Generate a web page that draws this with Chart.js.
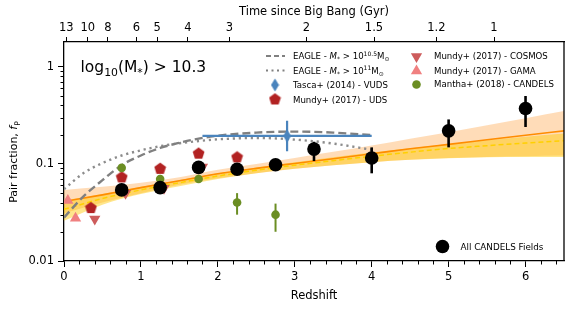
<!DOCTYPE html>
<html>
<head>
<meta charset="utf-8">
<script src="https://cdn.jsdelivr.net/npm/chart.js@4.4.0/dist/chart.umd.min.js"></script>
<style>
  html, body { margin: 0; padding: 0; background: #fff; }
</style>
</head>
<body>
<canvas id="pairChart" width="582" height="311"></canvas>
<script>
// ---- data ----
const zTicks = [0, 1, 2, 3, 4, 5, 6];
const ageLabels = ['13', '10', '8', '6', '5', '4', '3', '2', '1.5', '1.2', '1'];
const ageTickZ = [0.03, 0.31, 0.57, 0.94, 1.21, 1.61, 2.15, 3.15, 4.03, 4.84, 5.59];
const fpTicks = [0.01, 0.1, 1];

// All CANDELS fields (black)
const candelsZ = [0.75, 1.25, 1.75, 2.25, 2.75, 3.25, 4.0, 5.0, 6.0];
const candelsFp = [0.054, 0.057, 0.092, 0.088, 0.098, 0.142, 0.115, 0.219, 0.372];
const candelsLo = [0.050, 0.053, 0.085, 0.082, 0.089, 0.107, 0.080, 0.148, 0.240];
const candelsHi = [0.058, 0.062, 0.100, 0.095, 0.108, 0.169, 0.148, 0.287, 0.500];

// Tasca+ (2014) - VUDS
const vudsZ = [2.9];
const vudsFp = [0.194];
const vudsLo = [0.135];
const vudsHi = [0.278];
const vudsZLo = [1.8];
const vudsZHi = [4.0];

// Mantha+ (2018) - CANDELS
const manthaZ = [0.75, 1.25, 1.75, 2.25, 2.75];
const manthaFp = [0.091, 0.070, 0.070, 0.040, 0.030];
const manthaLo = [0.084, 0.064, 0.064, 0.030, 0.020];
const manthaHi = [0.098, 0.077, 0.077, 0.050, 0.039];

// Mundy+ (2017)
const udsZ = [0.35, 0.75, 1.25, 1.75, 2.25];
const udsFp = [0.0355, 0.0735, 0.090, 0.129, 0.118];
const cosmosZ = [0.40, 0.80, 1.30, 1.80];
const cosmosFp = [0.027, 0.050, 0.056, 0.093];
const gamaZ = [0.05, 0.15];
const gamaFp = [0.042, 0.0275];

// EAGLE predictions
const eagleZ = [0, 0.25, 0.5, 0.75, 1, 1.25, 1.5, 1.75, 2, 2.5, 3, 3.5, 4];
const eagle105 = [0.028, 0.046, 0.068, 0.097, 0.122, 0.146, 0.165, 0.182, 0.195, 0.210, 0.215, 0.210, 0.198];
const eagle11 = [0.055, 0.080, 0.102, 0.122, 0.138, 0.152, 0.163, 0.172, 0.179, 0.185, 0.178, 0.162, 0.140];

// fits with their uncertainty bands
const fitZ = [0, 0.5, 1, 1.5, 2, 2.5, 3, 3.5, 4, 4.5, 5, 5.5, 6, 6.5];
const fitAll = [0.041, 0.048, 0.057, 0.067, 0.079, 0.090, 0.101, 0.113, 0.127, 0.143, 0.159, 0.177, 0.197, 0.219];
const fitAllHi = [0.054, 0.058, 0.064, 0.073, 0.087, 0.100, 0.115, 0.133, 0.155, 0.182, 0.212, 0.250, 0.295, 0.350];
const fitAllLo = [0.031, 0.040, 0.050, 0.061, 0.071, 0.080, 0.089, 0.097, 0.104, 0.110, 0.115, 0.118, 0.120, 0.122];
const fitAlt = [0.034, 0.044, 0.054, 0.064, 0.075, 0.086, 0.097, 0.108, 0.120, 0.132, 0.144, 0.154, 0.164, 0.173];
const fitAltHi = [0.042, 0.049, 0.058, 0.068, 0.080, 0.092, 0.104, 0.117, 0.131, 0.145, 0.160, 0.175, 0.190, 0.205];
const fitAltLo = [0.026, 0.038, 0.049, 0.059, 0.070, 0.080, 0.089, 0.097, 0.104, 0.110, 0.114, 0.117, 0.118, 0.118];

// ---- colours ----
const black = '#000000';
const vudsBlue = '#4a84bd';
const udsRed = '#b22222';
const cosmosRed = '#cd5c5c';
const gamaPink = '#f08080';
const manthaGreen = '#6b8e23';
const eagleGray = '#808080';
const fitOrange = '#ff8c00';
const fitGold = '#ffd000';

const FONT = "'DejaVu Sans', sans-serif";
Chart.defaults.font.family = FONT;
Chart.defaults.color = '#000';

const pts = (xs, ys) => xs.map((x, i) => ({ x: x, y: ys[i] }));

// custom marker images
function makeMarker(w, h, draw) {
    const c = document.createElement('canvas');
    c.width = w; c.height = h;
    draw(c.getContext('2d'), w, h);
    return c;
}
function pentagonPath(g, cx, cy, r) {
    g.beginPath();
    for (let i = 0; i < 5; i++) {
        const a = -Math.PI / 2 + i * 2 * Math.PI / 5;
        g.lineTo(cx + r * Math.cos(a), cy + r * Math.sin(a));
    }
    g.closePath();
}
const pentagonImg = makeMarker(13, 13, (g, w, h) => {
    g.fillStyle = udsRed;
    pentagonPath(g, 6.5, 7, 6.2);
    g.fill();
});
const diamondImg = makeMarker(9, 14, (g, w, h) => {
    g.fillStyle = vudsBlue;
    g.beginPath();
    g.moveTo(4.5, 0.5); g.lineTo(8.5, 7); g.lineTo(4.5, 13.5); g.lineTo(0.5, 7);
    g.closePath();
    g.fill();
});

// error bars drawn just before each dataset so the markers sit on top
const errorBars = {
    id: 'errorBars',
    beforeDatasetDraw(chart, args) {
        const ds = chart.data.datasets[args.index];
        if (!ds.errLo && !ds.errZLo) return;
        const { ctx, scales: { x, y } } = chart;
        ctx.save();
        ctx.strokeStyle = ds.errColor;
        ctx.lineWidth = ds.errWidth;
        ds.data.forEach((p, i) => {
            const px = x.getPixelForValue(p.x);
            const py = y.getPixelForValue(p.y);
            ctx.beginPath();
            if (ds.errLo) {
                ctx.moveTo(px, y.getPixelForValue(ds.errLo[i]));
                ctx.lineTo(px, y.getPixelForValue(ds.errHi[i]));
            }
            if (ds.errZLo) {
                ctx.moveTo(x.getPixelForValue(ds.errZLo[i]), py);
                ctx.lineTo(x.getPixelForValue(ds.errZHi[i]), py);
            }
            ctx.stroke();
        });
        ctx.restore();
    }
};

// minor ticks and the right-hand frame line
const frame = {
    id: 'frame',
    afterDraw(chart) {
        const { ctx, chartArea: a, scales: { x, y } } = chart;
        ctx.save();
        ctx.strokeStyle = '#000';
        ctx.lineWidth = 1;
        ctx.beginPath();
        for (let v = 0.2; v < 6.5; v += 0.2) {
            if (Math.abs(v - Math.round(v)) < 0.01) continue;
            const px = Math.round(x.getPixelForValue(v)) + 0.5;
            ctx.moveTo(px, a.bottom); ctx.lineTo(px, a.bottom + 3.5);
        }
        [0.01, 0.1, 1].forEach(d => {
            for (let k = 2; k <= 9; k++) {
                const v = d * k;
                if (v > 1.8) break;
                const py = Math.round(y.getPixelForValue(v)) + 0.5;
                ctx.moveTo(a.left, py); ctx.lineTo(a.left - 3.5, py);
            }
        });
        ctx.stroke();
        ctx.lineWidth = 1.3;
        ctx.beginPath();
        ctx.moveTo(a.right, a.top); ctx.lineTo(a.right, a.bottom);
        ctx.stroke();
        ctx.restore();
    }
};

// rich text: parts of [text, mode] with mode n / i (italic) / b (subscript) / p (superscript)
function drawRich(ctx, x, y, parts, size) {
    let cx = x;
    parts.forEach(([t, m]) => {
        let fs = size, dy = 0, st = '';
        if (m === 'b') { fs = size * 0.7; dy = size * 0.25; }
        if (m === 'p') { fs = size * 0.7; dy = -size * 0.4; }
        if (m === 'i') st = 'italic ';
        ctx.font = st + fs + 'px ' + FONT;
        ctx.fillText(t, cx, y + dy);
        cx += ctx.measureText(t).width;
    });
    return cx;
}
function richWidth(ctx, parts, size) {
    let w = 0;
    parts.forEach(([t, m]) => {
        const fs = (m === 'b' || m === 'p') ? size * 0.7 : size;
        ctx.font = (m === 'i' ? 'italic ' : '') + fs + 'px ' + FONT;
        w += ctx.measureText(t).width;
    });
    return w;
}
function triangle(ctx, cx, cy, r, down, color) {
    ctx.fillStyle = color;
    ctx.beginPath();
    const s = down ? -1 : 1;
    ctx.moveTo(cx, cy - s * r);
    ctx.lineTo(cx + r * 0.866, cy + s * r * 0.5);
    ctx.lineTo(cx - r * 0.866, cy + s * r * 0.5);
    ctx.closePath();
    ctx.fill();
}

const annotations = {
    id: 'annotations',
    afterDraw(chart) {
        const ctx = chart.ctx;
        ctx.save();
        ctx.fillStyle = '#000';
        ctx.textBaseline = 'alphabetic';

        // mass cut label
        drawRich(ctx, 80.5, 72, [['log', 'n'], ['10', 'b'], ['(M', 'n'], ['*', 'b'], [')', 'n'], [' > 10.3', 'n']], 15.5);

        // y axis title
        const yParts = [['Pair fraction, ', 'n'], ['f', 'i'], ['P', 'b']];
        ctx.save();
        ctx.translate(17, 162);
        ctx.rotate(-Math.PI / 2);
        const w = richWidth(ctx, yParts, 11);
        drawRich(ctx, -w / 2, 0, yParts, 11);
        ctx.restore();

        // legend, left column
        const fs = 8.6;
        const rows = [56, 70.5, 85, 99.5];
        const mx1 = 275, tx1 = 293, mx2 = 416.5, tx2 = 434;
        ctx.strokeStyle = eagleGray;
        ctx.lineWidth = 2.2;
        ctx.setLineDash([5, 3]);
        ctx.beginPath(); ctx.moveTo(266, rows[0]); ctx.lineTo(285, rows[0]); ctx.stroke();
        ctx.setLineDash([2, 3.5]);
        ctx.beginPath(); ctx.moveTo(266, rows[1]); ctx.lineTo(285, rows[1]); ctx.stroke();
        ctx.setLineDash([]);
        ctx.drawImage(diamondImg, mx1 - 4.5, rows[2] - 7);
        ctx.drawImage(pentagonImg, mx1 - 6.5, rows[3] - 7);
        ctx.fillStyle = '#000';
        drawRich(ctx, tx1, rows[0] + 3, [['EAGLE - ', 'n'], ['M', 'i'], ['*', 'b'], [' > 10', 'n'], ['10.5', 'p'], ['M', 'n'], ['⊙', 'b']], fs);
        drawRich(ctx, tx1, rows[1] + 3, [['EAGLE - ', 'n'], ['M', 'i'], ['*', 'b'], [' > 10', 'n'], ['11', 'p'], ['M', 'n'], ['⊙', 'b']], fs);
        drawRich(ctx, tx1, rows[2] + 3, [['Tasca+ (2014) - VUDS', 'n']], fs);
        drawRich(ctx, tx1, rows[3] + 3, [['Mundy+ (2017) - UDS', 'n']], fs);

        // legend, right column
        triangle(ctx, mx2, rows[0] + 0.5, 6.5, true, cosmosRed);
        triangle(ctx, mx2, rows[1] + 0.5, 6.5, false, gamaPink);
        ctx.fillStyle = manthaGreen;
        ctx.beginPath(); ctx.arc(mx2, rows[2] - 0.5, 4.3, 0, Math.PI * 2); ctx.fill();
        ctx.fillStyle = '#000';
        drawRich(ctx, tx2, rows[0] + 3, [['Mundy+ (2017) - COSMOS', 'n']], fs);
        drawRich(ctx, tx2, rows[1] + 3, [['Mundy+ (2017) - GAMA', 'n']], fs);
        drawRich(ctx, tx2, rows[2] + 1.5, [['Mantha+ (2018) - CANDELS', 'n']], fs);

        // lower legend
        ctx.beginPath(); ctx.arc(442.5, 246.5, 6.8, 0, Math.PI * 2); ctx.fill();
        drawRich(ctx, 460.5, 249.5, [['All CANDELS Fields', 'n']], 8.8);
        ctx.restore();
    }
};

const ctx = document.getElementById('pairChart').getContext('2d');
new Chart(ctx, {
    data: {
        datasets: [
            {
                type: 'scatter', label: 'All CANDELS Fields',
                data: pts(candelsZ, candelsFp),
                backgroundColor: black, borderWidth: 0, pointRadius: 6.8,
                errLo: candelsLo, errHi: candelsHi, errColor: black, errWidth: 2.6
            },
            {
                type: 'scatter', label: 'Tasca+ (2014) - VUDS',
                data: pts(vudsZ, vudsFp),
                pointStyle: diamondImg,
                errLo: vudsLo, errHi: vudsHi, errZLo: vudsZLo, errZHi: vudsZHi,
                errColor: vudsBlue, errWidth: 2.2
            },
            {
                type: 'scatter', label: 'Mantha+ (2018) - CANDELS',
                data: pts(manthaZ, manthaFp),
                backgroundColor: manthaGreen, borderWidth: 0, pointRadius: 4.3,
                errLo: manthaLo, errHi: manthaHi, errColor: manthaGreen, errWidth: 2
            },
            {
                type: 'scatter', label: 'Mundy+ (2017) - UDS',
                data: pts(udsZ, udsFp),
                pointStyle: pentagonImg
            },
            {
                type: 'scatter', label: 'Mundy+ (2017) - COSMOS',
                data: pts(cosmosZ, cosmosFp),
                pointStyle: 'triangle', rotation: 180, pointRadius: 6.5,
                backgroundColor: cosmosRed, borderWidth: 0
            },
            {
                type: 'scatter', label: 'Mundy+ (2017) - GAMA',
                data: pts(gamaZ, gamaFp),
                pointStyle: 'triangle', pointRadius: 6.5,
                backgroundColor: gamaPink, borderWidth: 0
            },
            {
                type: 'line', label: 'EAGLE 10.5',
                data: pts(eagleZ, eagle105),
                borderColor: eagleGray, borderWidth: 2.4, borderDash: [8, 4],
                pointRadius: 0, fill: false, cubicInterpolationMode: 'monotone'
            },
            {
                type: 'line', label: 'EAGLE 11',
                data: pts(eagleZ, eagle11),
                borderColor: '#8c8c8c', borderWidth: 2.4, borderDash: [2.2, 3.8],
                pointRadius: 0, fill: false, cubicInterpolationMode: 'monotone'
            },
            {
                type: 'line', label: 'alt fit',
                data: pts(fitZ, fitAlt),
                borderColor: fitGold, borderWidth: 1.5, borderDash: [5, 3],
                pointRadius: 0, fill: false, cubicInterpolationMode: 'monotone'
            },
            {
                type: 'line', label: 'fit',
                data: pts(fitZ, fitAll),
                borderColor: fitOrange, borderWidth: 1.6,
                pointRadius: 0, fill: false, cubicInterpolationMode: 'monotone'
            },
            {
                type: 'line', label: 'alt band hi',
                data: pts(fitZ, fitAltHi),
                borderWidth: 0, pointRadius: 0, fill: '+1',
                backgroundColor: 'rgba(255, 200, 0, 0.45)', cubicInterpolationMode: 'monotone'
            },
            {
                type: 'line', label: 'alt band lo',
                data: pts(fitZ, fitAltLo),
                borderWidth: 0, pointRadius: 0, fill: false, cubicInterpolationMode: 'monotone'
            },
            {
                type: 'line', label: 'band hi',
                data: pts(fitZ, fitAllHi),
                borderWidth: 0, pointRadius: 0, fill: '+1',
                backgroundColor: 'rgba(255, 140, 20, 0.3)', cubicInterpolationMode: 'monotone'
            },
            {
                type: 'line', label: 'band lo',
                data: pts(fitZ, fitAllLo),
                borderWidth: 0, pointRadius: 0, fill: false, cubicInterpolationMode: 'monotone'
            }
        ]
    },
    options: {
        responsive: false,
        animation: false,
        devicePixelRatio: 1,
        layout: { padding: { left: 0, right: 18, top: 0, bottom: 0 } },
        plugins: {
            legend: { display: false },
            tooltip: { enabled: false }
        },
        scales: {
            x: {
                type: 'linear', position: 'bottom', min: 0, max: 6.5,
                afterBuildTicks: s => { s.ticks = zTicks.map(v => ({ value: v })); },
                afterFit: s => { s.height = 50; },
                ticks: { font: { size: 11.5 }, padding: 3, maxRotation: 0, autoSkip: false },
                grid: { drawOnChartArea: false, tickLength: 6, tickColor: '#000', lineWidth: 1 },
                border: { color: '#000', width: 1.3 },
                title: { display: true, text: 'Redshift', font: { size: 11.5 }, padding: { top: 0, bottom: 8 } }
            },
            x2: {
                type: 'linear', position: 'top', min: 0, max: 6.5,
                afterBuildTicks: s => { s.ticks = ageTickZ.map(v => ({ value: v })); },
                afterFit: s => { s.height = 42; },
                ticks: {
                    font: { size: 11.5 }, padding: 2, maxRotation: 0, autoSkip: false,
                    callback: (v, i) => ageLabels[i]
                },
                grid: { drawOnChartArea: false, tickLength: 5, tickColor: '#000', lineWidth: 1 },
                border: { color: '#000', width: 1.3 },
                title: { display: true, text: 'Time since Big Bang (Gyr)', font: { size: 11.5 }, padding: { top: 5, bottom: 0 } }
            },
            y: {
                type: 'logarithmic', position: 'left', min: 0.01, max: 1.8,
                afterBuildTicks: s => { s.ticks = fpTicks.map(v => ({ value: v, major: true })); },
                afterFit: s => { s.width = 64; },
                ticks: { font: { size: 11.5 }, padding: 4, callback: v => String(v) },
                grid: { drawOnChartArea: false, tickLength: 6, tickColor: '#000', lineWidth: 1 },
                border: { color: '#000', width: 1.3 }
            }
        }
    },
    plugins: [errorBars, frame, annotations]
});
</script>
</body>
</html>
